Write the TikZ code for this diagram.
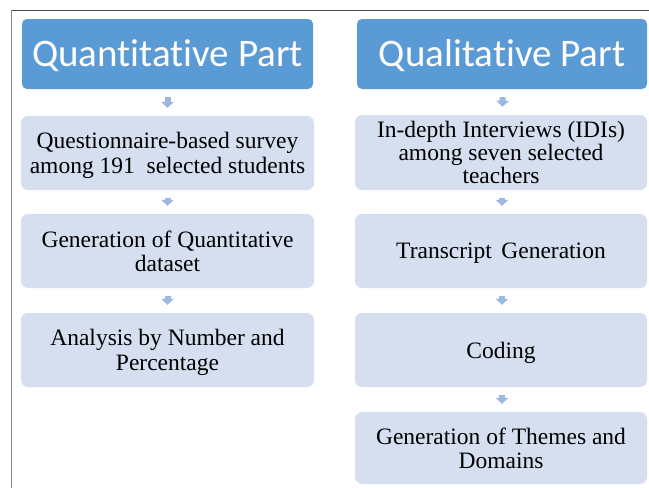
\documentclass[tikz,border=0pt]{standalone}
\usepackage{fontspec}
\setmainfont{Liberation Serif}
\newfontfamily\titlefont[RawFeature=-liga]{Carlito}
\usetikzlibrary{arrows.meta}
\definecolor{titleblue}{HTML}{5B9BD5}
\definecolor{boxblue}{HTML}{D5DFEF}
\definecolor{arrowblue}{HTML}{9DB8E0}
\tikzset{
  titlebox/.style={draw=none, fill=titleblue, rounded corners=5pt, minimum height=70pt, inner sep=0pt,
    text height=25pt, text depth=0pt,
    text=white, font=\titlefont\fontsize{39}{44}\selectfont},
  stepbox/.style={draw=none, fill=boxblue, rounded corners=7pt, inner sep=0pt, align=center,
    text depth=0pt, text=black, font=\fontsize{23.5}{24.5}\selectfont},
  flowarrow/.style={draw=arrowblue, line width=6pt, -{Triangle[width=12.5pt,length=6pt]},
    shorten <=8pt, shorten >=8pt},
  frameline/.style={line width=1pt}
}
\begin{document}
\begin{tikzpicture}[x=1pt,y=-1pt]
\useasboundingbox (0,0) rectangle (649,488);
\fill[white] (0,0) rectangle (649,488);
% frame
\coordinate (fTL) at (11,10);
\coordinate (fTR) at (649,10);
\coordinate (fBL) at (11,488);
\draw[frameline, draw=black!70] (fTL) -- (fTR);
\draw[frameline, draw=black!45] (fTL) -- (fBL);
% left column
\node[titlebox, minimum width=291pt] (tL) at (167.5,54) {Quantitative Part};
\node[stepbox, minimum width=293pt, minimum height=74pt] (L1) at (167.5,153) {Questionnaire-based survey\\among 191\hspace{0.25em} selected students};
\node[stepbox, minimum width=293pt, minimum height=74pt] (L2) at (167.5,251) {Generation of Quantitative\\dataset};
\node[stepbox, minimum width=293pt, minimum height=74pt] (L3) at (167.5,350) {Analysis by Number and\\Percentage};
% right column
\node[titlebox, minimum width=290pt] (tR) at (502,54) {Qualitative Part};
\node[stepbox, minimum width=292pt, minimum height=75pt, font=\fontsize{23.5}{23}\selectfont] (R1) at (501,152.5) {In-depth Interviews (IDIs)\\among seven selected\\teachers};
\node[stepbox, minimum width=292pt, minimum height=74pt] (R2) at (501,251) {Transcript\hspace{0.15em} Generation};
\node[stepbox, minimum width=292pt, minimum height=74pt] (R3) at (501,350) {Coding};
\node[stepbox, minimum width=292pt, minimum height=72pt] (R4) at (501,448) {Generation of Themes and\\Domains};
% arrows
\draw[flowarrow] (tL.south) -- (L1.north);
\draw[flowarrow] (L1.south) -- (L2.north);
\draw[flowarrow] (L2.south) -- (L3.north);
\draw[flowarrow] ([xshift=1pt]tR.south) -- ([xshift=1pt]R1.north);
\draw[flowarrow] ([xshift=1pt]R1.south) -- ([xshift=1pt]R2.north);
\draw[flowarrow] ([xshift=1pt]R2.south) -- ([xshift=1pt]R3.north);
\draw[flowarrow] ([xshift=1pt]R3.south) -- ([xshift=1pt]R4.north);
\end{tikzpicture}
\end{document}
